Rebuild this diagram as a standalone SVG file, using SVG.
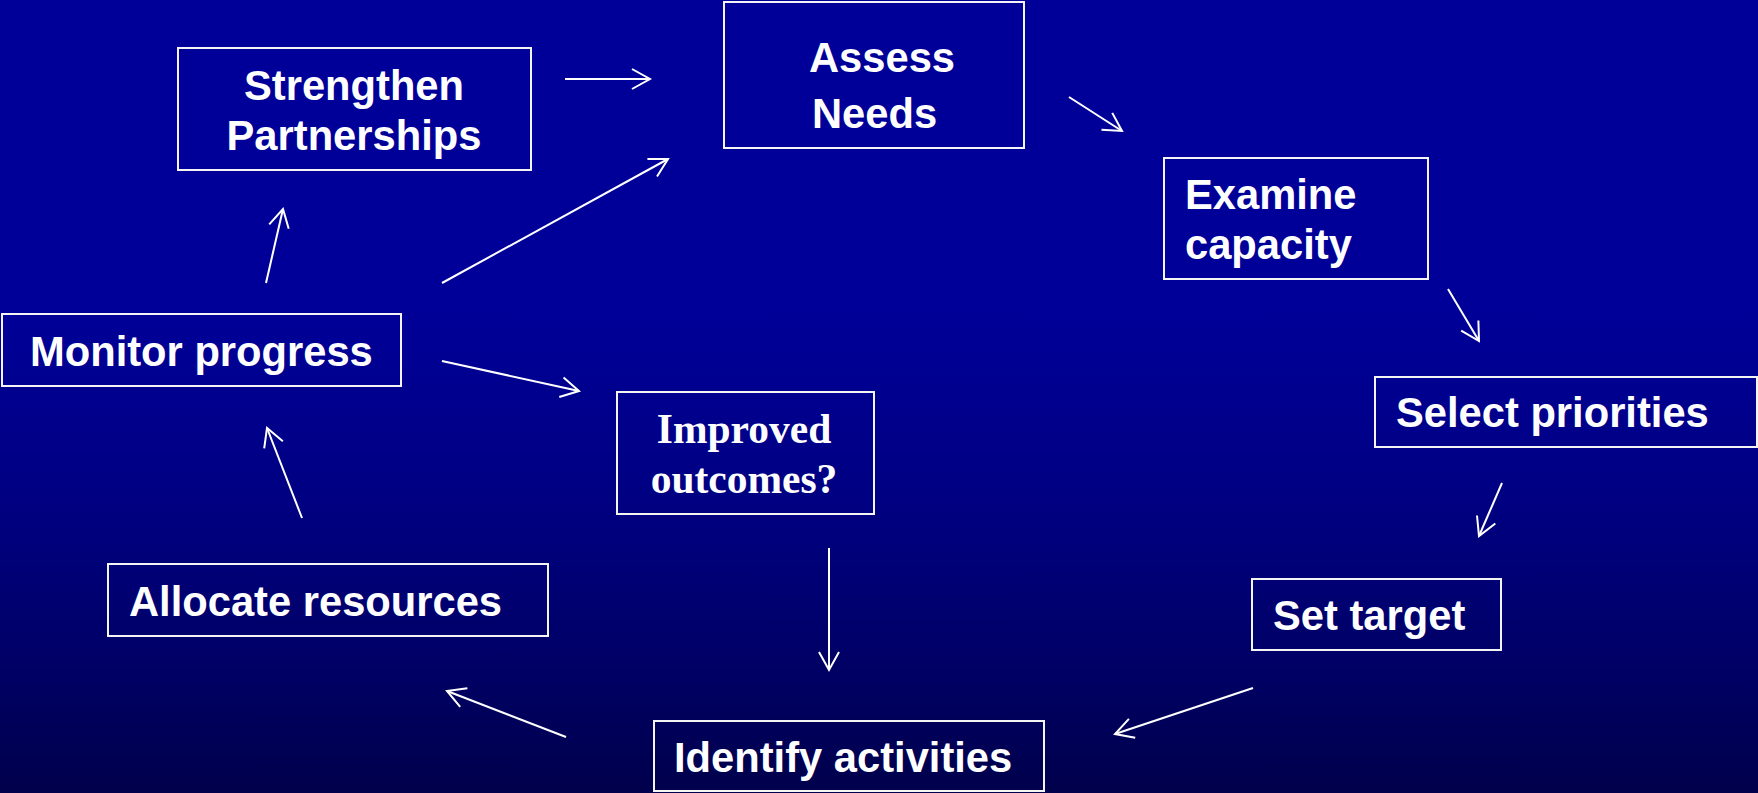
<svg xmlns="http://www.w3.org/2000/svg" width="1758" height="793" viewBox="0 0 1758 793">
  <defs>
    <linearGradient id="bg" x1="0" y1="0" x2="0" y2="1">
      <stop offset="0" stop-color="#000099"/>
      <stop offset="0.38" stop-color="#000099"/>
      <stop offset="0.63" stop-color="#000082"/>
      <stop offset="0.82" stop-color="#000068"/>
      <stop offset="1" stop-color="#00004c"/>
    </linearGradient>
    <marker id="arr" markerUnits="userSpaceOnUse" markerWidth="40" markerHeight="40" viewBox="-20 -20 40 40" refX="0" refY="0" orient="auto">
      <path d="M-18,-10 L0,0 L-18,10" fill="none" stroke="#ffffff" stroke-width="2"/>
    </marker>
    <style>
      .box { fill: none; stroke: #f4f4f4; stroke-width: 2; }
      .t { font-family: "Liberation Sans", Arial, sans-serif; font-weight: bold; font-size: 41.7px; fill: #ffffff; }
      .ts { font-family: "Liberation Serif", "Times New Roman", serif; font-weight: bold; font-size: 41.5px; fill: #ffffff; }
      .c { stroke: #ffffff; stroke-width: 2; fill: none; marker-end: url(#arr); }
    </style>
  </defs>
  <rect x="0" y="0" width="1758" height="793" fill="url(#bg)"/>

  <g id="connectors">
    <line class="c" x1="565" y1="79" x2="650" y2="79"/>
    <line class="c" x1="442" y1="283" x2="668" y2="159"/>
    <line class="c" x1="266" y1="283" x2="283" y2="209"/>
    <line class="c" x1="442" y1="361" x2="579" y2="391"/>
    <line class="c" x1="1069" y1="97" x2="1122" y2="131"/>
    <line class="c" x1="1448" y1="289" x2="1479" y2="341"/>
    <line class="c" x1="1502" y1="483" x2="1479" y2="536"/>
    <line class="c" x1="1253" y1="688" x2="1115" y2="734"/>
    <line class="c" x1="829" y1="548" x2="829" y2="670"/>
    <line class="c" x1="566" y1="737" x2="447" y2="691"/>
    <line class="c" x1="302" y1="518" x2="267" y2="428"/>
  </g>

  <g id="strengthen">
    <rect class="box" x="178" y="48" width="353" height="122"/>
    <text class="t" x="354" y="100" text-anchor="middle">Strengthen</text>
    <text class="t" x="354" y="150" text-anchor="middle">Partnerships</text>
  </g>
  <g id="assess">
    <rect class="box" x="724" y="2" width="300" height="146"/>
    <text class="t" x="809" y="72">Assess</text>
    <text class="t" x="812" y="128">Needs</text>
  </g>
  <g id="examine">
    <rect class="box" x="1164" y="158" width="264" height="121"/>
    <text class="t" x="1185" y="209">Examine</text>
    <text class="t" x="1185" y="259">capacity</text>
  </g>
  <g id="select">
    <rect class="box" x="1375" y="377" width="382" height="70"/>
    <text class="t" x="1396" y="427">Select priorities</text>
  </g>
  <g id="settarget">
    <rect class="box" x="1252" y="579" width="249" height="71"/>
    <text class="t" x="1273" y="630">Set target</text>
  </g>
  <g id="identify">
    <rect class="box" x="654" y="721" width="390" height="70"/>
    <text class="t" x="674" y="772">Identify activities</text>
  </g>
  <g id="improved">
    <rect class="box" x="617" y="392" width="257" height="122"/>
    <text class="ts" x="744" y="443" text-anchor="middle">Improved</text>
    <text class="ts" x="744" y="493" text-anchor="middle">outcomes?</text>
  </g>
  <g id="allocate">
    <rect class="box" x="108" y="564" width="440" height="72"/>
    <text class="t" x="129" y="616">Allocate resources</text>
  </g>
  <g id="monitor">
    <rect class="box" x="2" y="314" width="399" height="72"/>
    <text class="t" x="30" y="366">Monitor progress</text>
  </g>
</svg>
